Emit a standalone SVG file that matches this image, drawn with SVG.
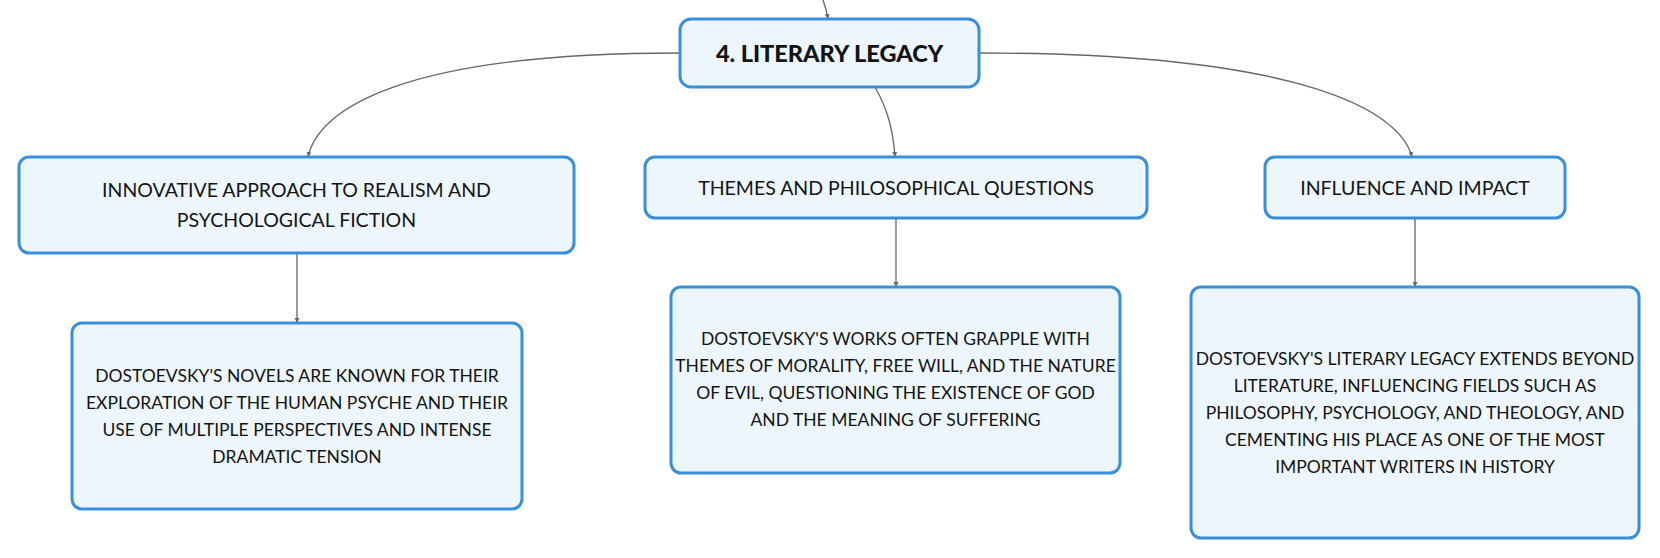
<svg xmlns="http://www.w3.org/2000/svg" width="1660" height="558" viewBox="0 0 1660 558">
<style>
.box{fill:#eef6fd;stroke:#3a8fdb;stroke-width:3}
.t{font-family:Lato,"Open Sans","Liberation Sans",sans-serif;fill:#141414;text-anchor:middle}
.top{font-size:19.5px}
.sm{font-size:17.5px}
.main{font-size:23.5px;font-weight:900}
.c{fill:none;stroke:#666;stroke-width:1.3}
</style>
<defs>
<marker id="ah" markerWidth="6" markerHeight="6" refX="5" refY="3" orient="auto" markerUnits="userSpaceOnUse">
<path d="M0,0.5 L5,3 L0,5.5 Z" fill="#666"/>
</marker>
</defs>
<rect width="1660" height="558" fill="#ffffff"/>
<g id="connectors">
<path class="c" d="M823,0 C826,8 827,13 828,19" marker-end="url(#ah)"/>
<path class="c" d="M680,53 C400,53 318,110 308,157" marker-end="url(#ah)"/>
<path class="c" d="M875,87 C888,110 893,130 895,157" marker-end="url(#ah)"/>
<path class="c" d="M979,53 C1300,53 1400,110 1412,157" marker-end="url(#ah)"/>
<path class="c" d="M297,253 L297,323" marker-end="url(#ah)"/>
<path class="c" d="M896,218 L896,287" marker-end="url(#ah)"/>
<path class="c" d="M1415,218 L1415,287" marker-end="url(#ah)"/>
</g>
<g id="node-main">
<rect class="box" x="680" y="19" width="299" height="68" rx="11"/>
<text class="t main" x="829.5" y="61.5">4. LITERARY LEGACY</text>
</g>
<g id="node-realism">
<rect class="box" x="19" y="157" width="555" height="96" rx="10"/>
<text class="t top" x="296.5" y="197">INNOVATIVE APPROACH TO REALISM AND</text>
<text class="t top" x="296.5" y="227">PSYCHOLOGICAL FICTION</text>
</g>
<g id="node-themes">
<rect class="box" x="645" y="157" width="502" height="61" rx="10"/>
<text class="t top" x="896" y="194.5">THEMES AND PHILOSOPHICAL QUESTIONS</text>
</g>
<g id="node-influence">
<rect class="box" x="1265" y="157" width="300" height="61" rx="10"/>
<text class="t top" x="1415" y="194.5">INFLUENCE AND IMPACT</text>
</g>
<g id="node-realism-detail">
<rect class="box" x="72" y="323" width="450" height="186" rx="10"/>
<text class="t sm" x="297" y="382">DOSTOEVSKY'S NOVELS ARE KNOWN FOR THEIR</text>
<text class="t sm" x="297" y="409">EXPLORATION OF THE HUMAN PSYCHE AND THEIR</text>
<text class="t sm" x="297" y="436">USE OF MULTIPLE PERSPECTIVES AND INTENSE</text>
<text class="t sm" x="297" y="463">DRAMATIC TENSION</text>
</g>
<g id="node-themes-detail">
<rect class="box" x="671" y="287" width="449" height="186" rx="10"/>
<text class="t sm" x="895.5" y="345">DOSTOEVSKY'S WORKS OFTEN GRAPPLE WITH</text>
<text class="t sm" x="895.5" y="372">THEMES OF MORALITY, FREE WILL, AND THE NATURE</text>
<text class="t sm" x="895.5" y="399">OF EVIL, QUESTIONING THE EXISTENCE OF GOD</text>
<text class="t sm" x="895.5" y="426">AND THE MEANING OF SUFFERING</text>
</g>
<g id="node-influence-detail">
<rect class="box" x="1191" y="287" width="448" height="251" rx="10"/>
<text class="t sm" x="1415" y="364.5">DOSTOEVSKY'S LITERARY LEGACY EXTENDS BEYOND</text>
<text class="t sm" x="1415" y="391.5">LITERATURE, INFLUENCING FIELDS SUCH AS</text>
<text class="t sm" x="1415" y="418.5">PHILOSOPHY, PSYCHOLOGY, AND THEOLOGY, AND</text>
<text class="t sm" x="1415" y="445.5">CEMENTING HIS PLACE AS ONE OF THE MOST</text>
<text class="t sm" x="1415" y="472.5">IMPORTANT WRITERS IN HISTORY</text>
</g>
</svg>
